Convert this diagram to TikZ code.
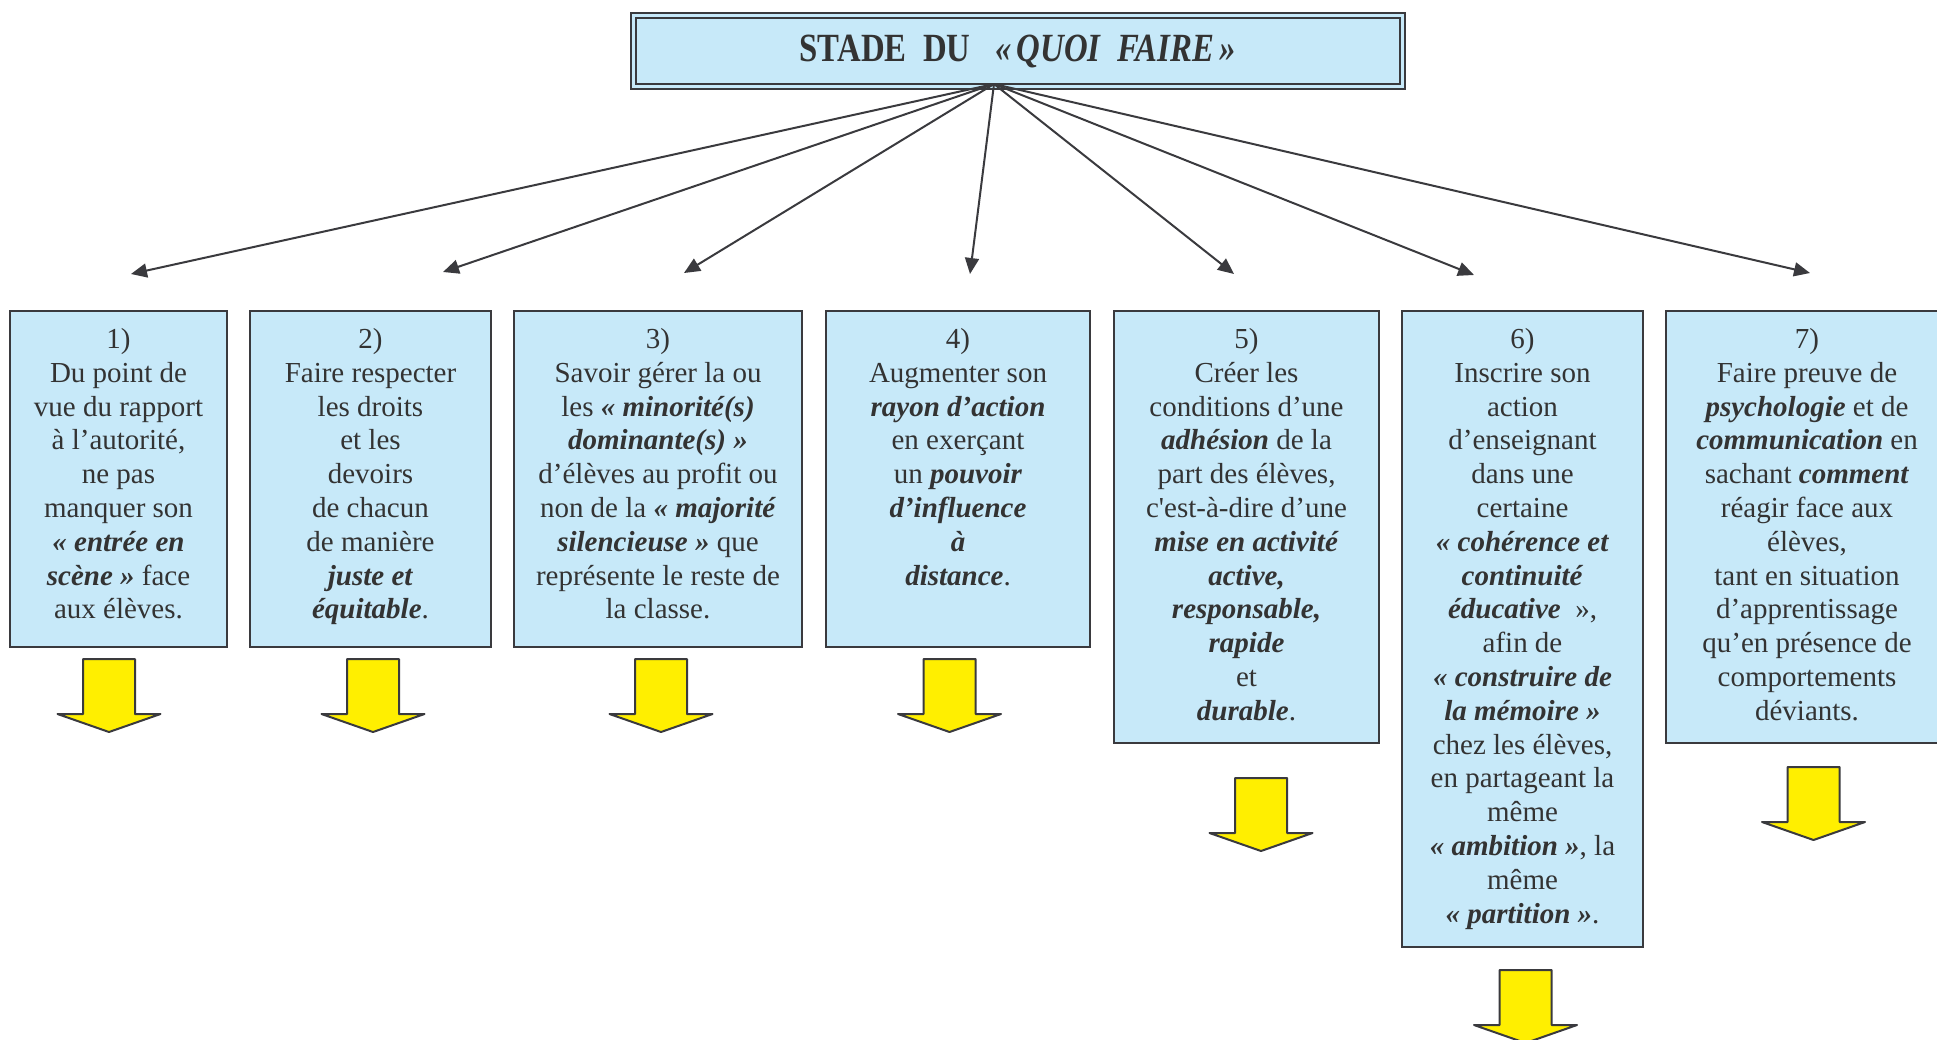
\documentclass[tikz,border=0pt]{standalone}
\usepackage{fontspec}
\setmainfont{Liberation Serif}[Ligatures=TeXOff]
\usetikzlibrary{arrows.meta}
\definecolor{boxblue}{RGB}{199,233,249}
\definecolor{linec}{RGB}{58,58,62}
\definecolor{txtc}{RGB}{51,51,51}
\definecolor{yel}{RGB}{255,239,0}
\newcommand\bix[1]{\textbf{\textit{#1}}}
\tikzset{
  box/.style={draw=linec, line width=1pt, fill=boxblue, inner sep=0pt},
  txt/.style={font=\fontsize{14.5}{16.9}\selectfont, align=center, text=txtc, inner sep=0pt, anchor=north},
  conn/.style={draw=linec, line width=1pt, -{Triangle[length=8pt,width=7pt]}},
  yarrowline/.style={draw=linec, line width=1pt, fill=yel, line join=round},
  yarrow/.pic={\path[yarrowline] (-26,0) -- (26,0) -- (26,55) -- (51.5,55) -- (0,73) -- (-51.5,55) -- (-26,55) -- cycle;}
}
\begin{document}
\begin{tikzpicture}[x=0.5pt,y=-0.5pt]
\useasboundingbox (0,0) rectangle (1937,1039);
\clip (0,0) rectangle (1937,1039);
% title
\node[draw=linec, line width=1pt, double=boxblue, double distance=1.5pt, fill=boxblue,
      minimum width=384.5pt, minimum height=35.5pt, inner sep=0pt, text=txtc,
      font=\fontsize{20}{24}\selectfont] (title) at (1018,51)
      {\scalebox{0.82}[1]{\bfseries STADE\ \ DU\ \ \ \textit{«\,QUOI\ \ FAIRE\,»}}};
\coordinate (o) at (994,84);
% boxes
\node[box, minimum width=108.5pt, minimum height=168pt] (b1) at (118.5,479) {};
\node[box, minimum width=120.5pt, minimum height=168pt] (b2) at (370.5,479) {};
\node[box, minimum width=144pt, minimum height=168pt] (b3) at (658,479) {};
\node[box, minimum width=132pt, minimum height=168pt] (b4) at (958,479) {};
\node[box, minimum width=132.5pt, minimum height=216pt] (b5) at (1246.5,527) {};
\node[box, minimum width=120.5pt, minimum height=318pt] (b6) at (1522.5,629) {};
\node[box, minimum width=141pt, minimum height=216pt] (b7) at (1807,527) {};
% texts
\node[txt] (t1) at (118.5,328) {1)\\Du point de\\vue du rapport\\à l’autorité,\\ne pas\\manquer son\\\bix{« entrée en}\\\bix{scène »} face\\aux élèves.};
\node[txt] (t2) at (370.5,328) {2)\\Faire respecter\\les droits\\et les\\devoirs\\de chacun\\de manière\\\bix{juste et}\\\bix{équitable}.};
\node[txt] (t3) at (658,328) {3)\\Savoir gérer la ou\\les \bix{« minorité(s)}\\\bix{dominante(s) »}\\d’élèves au profit ou\\non de la \bix{« majorité}\\\bix{silencieuse »} que\\représente le reste de\\la classe.};
\node[txt] (t4) at (958,328) {4)\\Augmenter son\\\bix{rayon d’action}\\en exerçant\\un \bix{pouvoir}\\\bix{d’influence}\\\bix{à}\\\bix{distance}.};
\node[txt] (t5) at (1246.5,328) {5)\\Créer les\\conditions d’une\\\bix{adhésion} de la\\part des élèves,\\c'est-à-dire d’une\\\bix{mise en activité}\\\bix{active,}\\\bix{responsable,}\\\bix{rapide}\\et\\\bix{durable}.};
\node[txt] (t6) at (1522.5,328) {6)\\Inscrire son\\action\\d’enseignant\\dans une\\certaine\\\bix{« cohérence et}\\\bix{continuité}\\\bix{éducative}\ \ »,\\afin de\\\bix{« construire de}\\\bix{la mémoire »}\\chez les élèves,\\en partageant la\\même\\\bix{« ambition »}, la\\même\\\bix{« partition »}.};
\node[txt] (t7) at (1807,328) {7)\\Faire preuve de\\\bix{psychologie} et de\\\bix{communication} en\\sachant \bix{comment}\\réagir face aux\\élèves,\\tant en situation\\d’apprentissage\\qu’en présence de\\comportements\\déviants.};
% connector ends
\coordinate (e1) at (131,274);
\coordinate (e2) at (443,272);
\coordinate (e3) at (684,273);
\coordinate (e4) at (970,274);
\coordinate (e5) at (1234,274);
\coordinate (e6) at (1474,275);
\coordinate (e7) at (1810,273);
\foreach \i in {1,...,7} {\draw[conn] (o) -- (e\i);}
% yellow arrows
\pic (y1) at (109,659) {yarrow};
\pic (y2) at (373,659) {yarrow};
\pic (y3) at (661,659) {yarrow};
\pic (y4) at (949.5,659) {yarrow};
\pic (y5) at (1261,778) {yarrow};
\pic (y6) at (1525.5,970) {yarrow};
\pic (y7) at (1813.5,767) {yarrow};
\end{tikzpicture}
\end{document}
